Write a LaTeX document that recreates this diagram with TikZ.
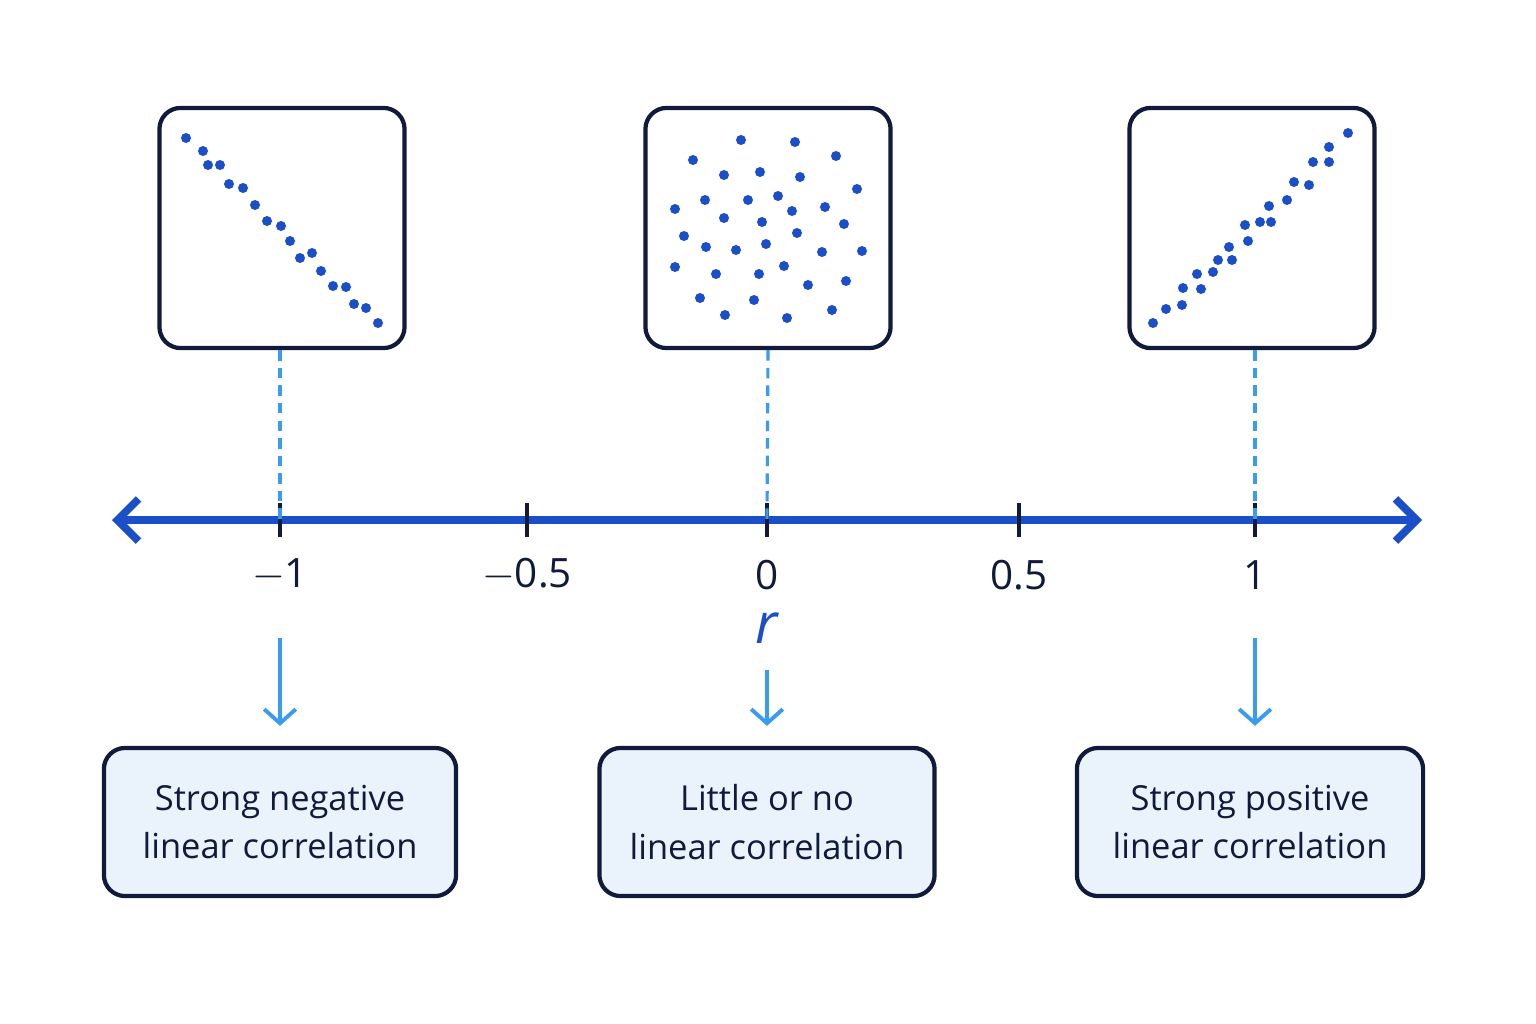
\documentclass[tikz,border=0pt]{standalone}
\usepackage{fontspec}
\setmainfont{Open Sans}
\usetikzlibrary{arrows.meta}
\definecolor{navy}{HTML}{101A3A}
\definecolor{axisblue}{HTML}{1A4FC8}
\definecolor{skyblue}{HTML}{3A9BEF}
\definecolor{boxfill}{HTML}{EAF3FC}
\begin{document}
\begin{tikzpicture}[x=0.01cm, y=-0.01cm,
    plot/.style={draw=navy, line width=1.2pt, rounded corners=6pt, minimum width=2.45cm, minimum height=2.4cm},
    label/.style={draw=navy, fill=boxfill, line width=1.2pt, rounded corners=6pt, minimum height=1.48cm, inner sep=2pt, align=center, text=navy, font=\fontsize{9.8}{13.8}\selectfont},
    tick/.style={draw=navy, line width=1.2pt},
    num/.style={text=navy, font=\fontsize{11.5}{14}\selectfont},
    pt/.style={fill=axisblue, circle, inner sep=0pt, minimum size=0.1cm},
    guide/.style={skyblue, dash pattern=on 3pt off 2pt, line width=0.9pt},
    pointer/.style={skyblue, line width=1.1pt, -{Straight Barb[length=4pt,width=9pt]}}]
    \useasboundingbox[fill=white] (0,0) rectangle (1536,1024);
    % Scatter boxes
    \node[plot] (neg) at (282,228) {};
    \node[plot] (zero) at (768,228) {};
    \node[plot] (pos) at (1252,228) {};
    \foreach \x/\y in {186/138,203/151,208/165,220/165,229/184,243/188,255/205,267/221,281/226,290/241,300/258,312/253,321/271,333/286,346/287,354/304,366/308,378/323}
        \node[pt] at (\x,\y) {};
    \foreach \x/\y in {741/140,795/142,693/160,836/156,724/175,760/172,800/177,857/189,705/200,748/200,778/196,675/209,825/207,724/218,762/222,792/211,844/224,684/236,797/233,706/247,736/250,766/244,822/252,862/251,675/267,716/274,759/274,784/266,808/285,846/281,700/298,754/300,725/315,787/318,832/310}
        \node[pt] at (\x,\y) {};
    \foreach \x/\y in {1153/323,1166/309,1182/305,1183/288,1197/274,1201/289,1213/272,1218/260,1232/260,1229/247,1248/241,1245/225,1260/222,1271/222,1269/206,1287/200,1294/182,1309/185,1313/162,1329/162,1329/147,1348/133}
        \node[pt] at (\x,\y) {};

    % Axis
    \coordinate (left) at (112,520);
    \coordinate (right) at (1422,520);
    \draw[axisblue, line width=2.2pt, {Straight Barb[length=6pt,width=12pt]}-{Straight Barb[length=6pt,width=12pt]}] (left) -- (right);
    \foreach \x/\v/\n in {280/$-$1/m1, 527/$-$0.5/mh, 767/0/z, 1019/0.5/ph, 1255/1/p1} {
        \coordinate (t\n) at (\x,520);
        \draw[tick] (\x,503) -- (\x,537);
        \node[num] (n\n) at (\x,575) {\v};
    }
    \node[text=axisblue, font=\fontsize{16}{18}\selectfont\itshape] (r) at (767,628) {r};
    \draw[guide] (neg.south -| tm1) -- (tm1);
    \draw[guide] (zero.south) -- (tz);
    \draw[guide] (pos.south -| tp1) -- (tp1);

    % Meaning boxes
    \node[label, minimum width=3.52cm] (strongneg) at (280,822) {Strong negative\\linear correlation};
    \node[label, minimum width=3.35cm] (none) at (767,822) {Little or no\\linear correlation};
    \node[label, minimum width=3.46cm] (strongpos) at (1250,822) {Strong positive\\linear correlation};
    \coordinate (a1) at (280,638);
    \coordinate (a2) at (767,670);
    \coordinate (a3) at (1255,638);
    \draw[pointer] (a1) -- ([yshift=0.2cm]strongneg.north -| a1);
    \draw[pointer] (a2) -- ([yshift=0.2cm]none.north -| a2);
    \draw[pointer] (a3) -- ([yshift=0.2cm]strongpos.north -| a3);
\end{tikzpicture}
\end{document}
